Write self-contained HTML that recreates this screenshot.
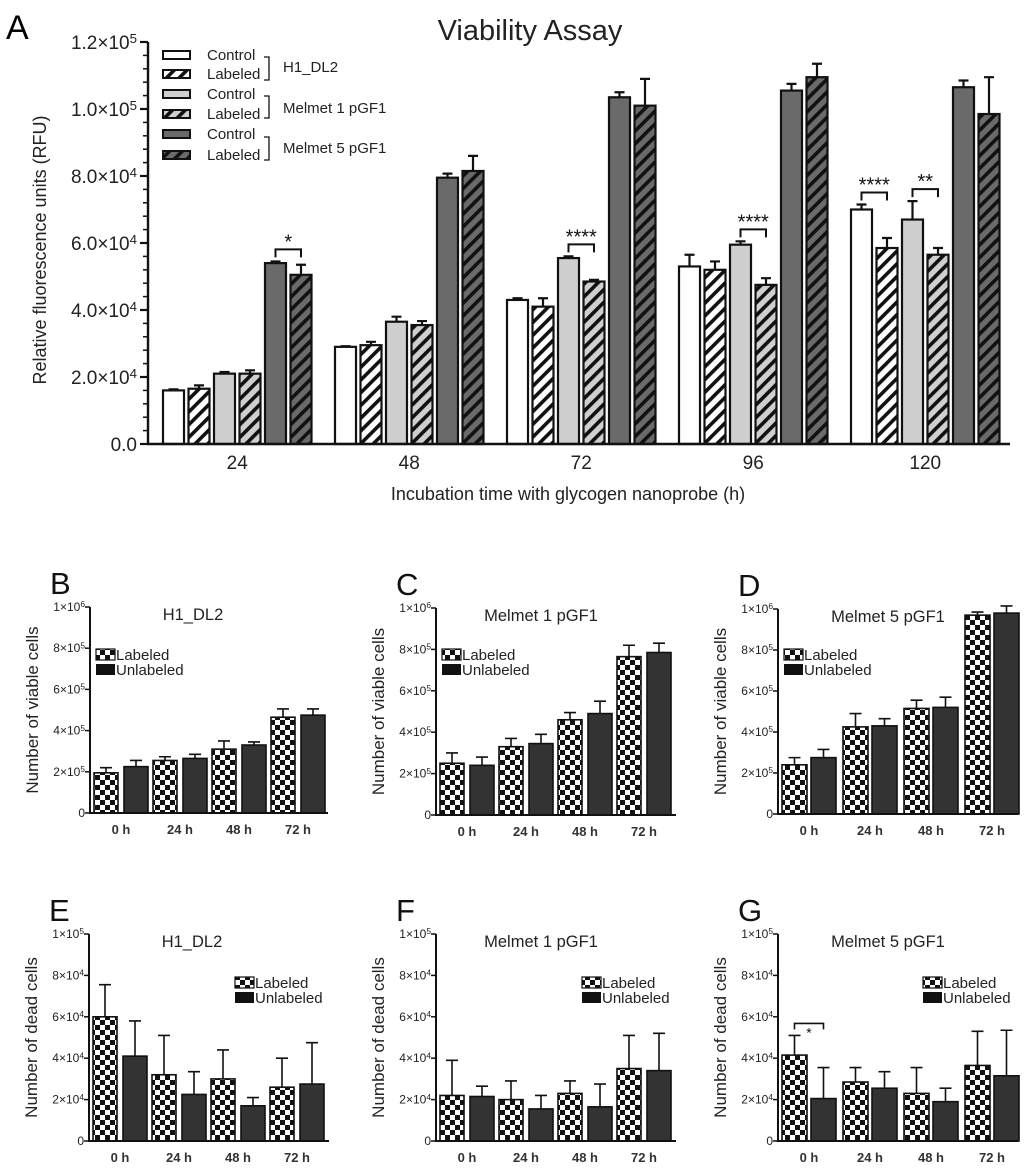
<!DOCTYPE html>
<html><head><meta charset="utf-8"><style>
html,body{margin:0;padding:0;background:#fff;}
svg{display:block;font-family:"Liberation Sans",Arial,sans-serif;}
</style></head><body>
<svg id="fig" width="1024" height="1172" viewBox="0 0 1024 1172" xmlns="http://www.w3.org/2000/svg">
<defs>
<pattern id="checker" patternUnits="userSpaceOnUse" width="10" height="10"><rect width="10" height="10" fill="#fff"/><rect width="5" height="5" fill="#111"/><rect x="5" y="5" width="5" height="5" fill="#111"/></pattern>
<pattern id="hatchW" patternUnits="userSpaceOnUse" width="9" height="9" patternTransform="rotate(45)"><rect width="9" height="9" fill="#fff"/><rect width="3.6" height="9" fill="#111"/></pattern>
<pattern id="hatchL" patternUnits="userSpaceOnUse" width="9" height="9" patternTransform="rotate(45)"><rect width="9" height="9" fill="#cfcfcf"/><rect width="3.6" height="9" fill="#111"/></pattern>
<pattern id="hatchD" patternUnits="userSpaceOnUse" width="9" height="9" patternTransform="rotate(45)"><rect width="9" height="9" fill="#6a6a6a"/><rect width="3.6" height="9" fill="#111"/></pattern>
</defs>
<g id="root"></g>
</svg>
<script>
// ---------- Panel A data ----------
const aCats = ['24','48','72','96','120'];
const aCtrlH1 = [16000,29000,43000,53000,70000];
const aLabH1  = [16500,29500,41000,52000,58500];
const aCtrlM1 = [21000,36500,55500,59500,67000];
const aLabM1  = [21000,35500,48500,47500,56500];
const aCtrlM5 = [54000,79500,103500,105500,106500];
const aLabM5  = [50500,81500,101000,109500,98500];
const aErrCtrlH1 = [300,200,500,3500,1500];
const aErrLabH1  = [1000,1000,2500,2500,3000];
const aErrCtrlM1 = [500,1500,500,1000,5500];
const aErrLabM1  = [1000,1200,500,2000,2000];
const aErrCtrlM5 = [500,1200,1500,2000,2000];
const aErrLabM5  = [3000,4500,8000,4000,11000];
const aTickVals = [0,20000,40000,60000,80000,100000,120000];
const aTickLabels = ['0.0','2.0×10','4.0×10','6.0×10','8.0×10','1.0×10','1.2×10'];
const aTickExp = ['','4','4','4','4','5','5'];
const aSig = [[0,4,5,'*'],[2,2,3,'****'],[3,2,3,'****'],[4,0,1,'****'],[4,2,3,'**']];

// ---------- Small panels data ----------
const smallCats = ['0 h','24 h','48 h','72 h'];
const bLab = [195000,255000,310000,465000], bUnl = [225000,265000,330000,475000];
const bLabErr = [25000,18000,40000,40000], bUnlErr = [30000,20000,15000,30000];
const cLab = [250000,330000,460000,765000], cUnl = [240000,345000,490000,785000];
const cLabErr = [50000,40000,35000,55000], cUnlErr = [40000,45000,60000,45000];
const dLab = [240000,425000,515000,970000], dUnl = [275000,430000,520000,980000];
const dLabErr = [35000,65000,40000,15000], dUnlErr = [40000,35000,50000,35000];
const eLab = [60000,32000,30000,26000], eUnl = [41000,22500,17000,27500];
const eLabErr = [15500,19000,14000,14000], eUnlErr = [17000,11000,4000,20000];
const fLab = [22000,20000,23000,35000], fUnl = [21500,15500,16500,34000];
const fLabErr = [17000,9000,6000,16000], fUnlErr = [5000,6500,11000,18000];
const gLab = [41500,28500,23000,36500], gUnl = [20500,25500,19000,31500];
const gLabErr = [9500,7000,12500,16500], gUnlErr = [15000,8000,6500,22000];
const viableTicks = [0,200000,400000,600000,800000,1000000];
const viableTickBase = ['0','2×10','4×10','6×10','8×10','1×10'];
const viableTickExp = ['','5','5','5','5','6'];
const deadTicks = [0,20000,40000,60000,80000,100000];
const deadTickBase = ['0','2×10','4×10','6×10','8×10','1×10'];
const deadTickExp = ['','4','4','4','4','5'];

const NS='http://www.w3.org/2000/svg';
const root=document.getElementById('root');
function mk(tag,attrs,parent){const e=document.createElementNS(NS,tag);for(const k in attrs)e.setAttribute(k,attrs[k]);(parent||root).appendChild(e);return e;}
function txt(str,attrs,parent){const e=mk('text',attrs,parent);e.textContent=str;return e;}
function supText(base,exp,attrs,parent){const e=mk('text',attrs,parent);e.appendChild(document.createTextNode(base));if(exp){const t=document.createElementNS(NS,'tspan');t.setAttribute('dy','-0.45em');t.setAttribute('font-size','0.7em');t.textContent=exp;e.appendChild(t);}return e;}

// ================= Panel A =================
const A={ax:148,y0:444,max:120000,h:402,x0:163,gStep:172,bStep:25.5,bw:21,xEnd:1010};
function yA(v){return A.y0 - v/A.max*A.h;}
function xA(g,b){return A.x0 + g*A.gStep + b*A.bStep;}
const gA=mk('g',{});


let t=txt('A',{x:6,y:39,'font-size':34},gA);


t=txt('Viability Assay',{x:530,y:40,'font-size':29,'text-anchor':'middle',fill:'#222'},gA);


const seriesA=[[aCtrlH1,aErrCtrlH1,'#fff'],[aLabH1,aErrLabH1,'url(#hatchW)'],[aCtrlM1,aErrCtrlM1,'#cfcfcf'],[aLabM1,aErrLabM1,'url(#hatchL)'],[aCtrlM5,aErrCtrlM5,'#6a6a6a'],[aLabM5,aErrLabM5,'url(#hatchD)']];
const seriesANames=['h1-control','h1-labeled','melmet1-control','melmet1-labeled','melmet5-control','melmet5-labeled'];
aCats.forEach((c,g)=>{
  seriesA.forEach((s,b)=>{
    const v=s[0][g],e=s[1][g],x=xA(g,b),cx=x+A.bw/2;
    const r=mk('rect',{x:x,y:yA(v),width:A.bw,height:A.y0-yA(v),fill:s[2],stroke:'#111','stroke-width':2.2},gA);
    
    
    const eb=mk('path',{d:`M${cx},${yA(v)}V${yA(v+e)}M${cx-5},${yA(v+e)}H${cx+5}`,stroke:'#111','stroke-width':2.2,fill:'none'},gA);
    
    
  });
});
aSig.forEach(s=>{
  const [g,b1,b2,lab]=s;const srs=seriesA;
  const top=Math.max(srs[b1][0][g]+srs[b1][1][g],srs[b2][0][g]+srs[b2][1][g]);
  const yy=yA(top)-12, x1=xA(g,b1)+A.bw/2, x2=xA(g,b2)+A.bw/2;
  const p=mk('path',{d:`M${x1},${yy+8}V${yy}H${x2}V${yy+8}`,stroke:'#111','stroke-width':2,fill:'none'},gA);
  
  
  const st=txt(lab,{x:(x1+x2)/2,y:yy-1,'font-size':20,'text-anchor':'middle',fill:'#111'},gA);
  
  
});
let ax=mk('path',{d:`M${A.ax},${yA(A.max)}V${A.y0}H${A.xEnd}`,stroke:'#111','stroke-width':2.4,fill:'none'},gA);


for(let v=0;v<=A.max;v+=4000){const major=(v%20000===0);mk('line',{x1:A.ax-(major?8:5),x2:A.ax,y1:yA(v),y2:yA(v),stroke:'#111','stroke-width':major?2.2:1.5},gA);}
aTickVals.forEach((v,i)=>{const tl=supText(aTickLabels[i],aTickExp[i],{x:A.ax-11,y:yA(v)+7,'font-size':19,'text-anchor':'end',fill:'#222'},gA);
  
  });
aCats.forEach((c,g)=>{const tl=txt(c,{x:xA(g,0)+(5*A.bStep+A.bw)/2,y:469,'font-size':19,'text-anchor':'middle',fill:'#222'},gA);
  
  });
t=txt('Incubation time with glycogen nanoprobe (h)',{x:568,y:500,'font-size':18,'text-anchor':'middle',fill:'#222'},gA);


t=txt('Relative fluorescence units (RFU)',{x:0,y:0,'font-size':18,'text-anchor':'middle',fill:'#222',transform:'translate(46,250) rotate(-90)'},gA);


const legRows=[['Control','#fff',55],['Labeled','url(#hatchW)',74],['Control','#cfcfcf',94],['Labeled','url(#hatchL)',114],['Control','#6a6a6a',134],['Labeled','url(#hatchD)',155]];
legRows.forEach((r,i)=>{
  const sw=mk('rect',{x:163,y:r[2]-4,width:27,height:8,fill:r[1],stroke:'#111','stroke-width':2},gA);
  
  
  const lt=txt(r[0],{x:207,y:r[2]+5,'font-size':15,fill:'#222'},gA);
  
  
});
[['H1_DL2',57,80,72],['Melmet 1 pGF1',96,118,113],['Melmet 5 pGF1',137,160,153]].forEach(b=>{
  const br=mk('path',{d:`M264,${b[1]}H269V${b[2]}H264`,stroke:'#111','stroke-width':1.3,fill:'none'},gA);
  
  
  const bt=txt(b[0],{x:283,y:b[3],'font-size':15,fill:'#222'},gA);
  
  
});

// ================= Small panels =================
function small(cfg){
  const g=mk('g',{});
  
  
  const y=v=>cfg.y0-v/cfg.max*(cfg.y0-cfg.top);
  const lt=txt(cfg.letter,{x:cfg.ax-40,y:cfg.top-13,'font-size':31,fill:'#111'},g);
  
  
  const tt=txt(cfg.title,{x:cfg.ax+cfg.titleDx,y:cfg.top+13,'font-size':16.5,'text-anchor':'middle',fill:'#222'},g);
  
  
  smallCats.forEach((c,i)=>{
    [[cfg.lab,cfg.labErr,'url(#checker)','labeled'],[cfg.unl,cfg.unlErr,'#333','unlabeled']].forEach((s,j)=>{
      const v=s[0][i],e=s[1][i];const x=cfg.ax+4+i*cfg.gw+j*(cfg.bw+cfg.gap);const cx=x+cfg.bw/2;
      const r=mk('rect',{x:x,y:y(v),width:cfg.bw,height:cfg.y0-y(v),fill:s[2],stroke:'#111','stroke-width':1.6},g);
      
      
      const eb=mk('path',{d:`M${cx},${y(v)}V${y(v+e)}M${cx-6},${y(v+e)}H${cx+6}`,stroke:'#111','stroke-width':1.6,fill:'none'},g);
      
      
    });
    const xl=txt(c,{x:cfg.ax+4+i*cfg.gw+cfg.bw+cfg.gap/2,y:cfg.y0+21,'font-size':13,'font-weight':'bold','text-anchor':'middle',fill:'#333'},g);
    
    
  });
  const axp=mk('path',{d:`M${cfg.ax},${cfg.top}V${cfg.y0}H${cfg.ax+cfg.xlen}`,stroke:'#111','stroke-width':2,fill:'none'},g);
  
  
  cfg.ticks.forEach((v,i)=>{
    mk('line',{x1:cfg.ax-5,x2:cfg.ax,y1:y(v),y2:y(v),stroke:'#111','stroke-width':1.5},g);
    const tl=supText(cfg.tickBase[i],cfg.tickExp[i],{x:cfg.ax-5,y:y(v)+4,'font-size':12,'text-anchor':'end',fill:'#222'},g);
    
    
  });
  const yt=txt(cfg.ylabel,{x:0,y:0,'font-size':17,'text-anchor':'middle',fill:'#222',transform:`translate(${cfg.ax-52},${(cfg.top+cfg.y0)/2}) rotate(-90)`},g);
  
  
  const lx=cfg.ax+cfg.legDx, ly=cfg.legY;
  const s1=mk('rect',{x:lx,y:ly,width:19,height:11,fill:'url(#checker)',stroke:'#111','stroke-width':1.2},g);
  
  
  const s2=mk('rect',{x:lx,y:ly+15,width:19,height:11,fill:'#111'},g);
  
  
  const l1=txt('Labeled',{x:lx+20,y:ly+11,'font-size':15,fill:'#222'},g);
  
  
  const l2=txt('Unlabeled',{x:lx+20,y:ly+26,'font-size':15,fill:'#222'},g);
  
  
  return {g,y};
}
const vLbl='Number of viable cells', dLbl='Number of dead cells';
small({letter:'B',ax:90,top:607,y0:813,max:1e6,xlen:238,gw:59,bw:24,gap:6,lab:bLab,unl:bUnl,labErr:bLabErr,unlErr:bUnlErr,ticks:viableTicks,tickBase:viableTickBase,tickExp:viableTickExp,ylabel:vLbl,title:'H1_DL2',titleDx:103,legDx:6,legY:649});
small({letter:'C',ax:436,top:608,y0:815,max:1e6,xlen:240,gw:59,bw:24,gap:6,lab:cLab,unl:cUnl,labErr:cLabErr,unlErr:cUnlErr,ticks:viableTicks,tickBase:viableTickBase,tickExp:viableTickExp,ylabel:vLbl,title:'Melmet 1 pGF1',titleDx:105,legDx:6,legY:649});
small({letter:'D',ax:778,top:609,y0:814,max:1e6,xlen:240,gw:61,bw:25,gap:4,lab:dLab,unl:dUnl,labErr:dLabErr,unlErr:dUnlErr,ticks:viableTicks,tickBase:viableTickBase,tickExp:viableTickExp,ylabel:vLbl,title:'Melmet 5 pGF1',titleDx:110,legDx:6,legY:649});
small({letter:'E',ax:89,top:934,y0:1141,max:1e5,xlen:240,gw:59,bw:24,gap:6,lab:eLab,unl:eUnl,labErr:eLabErr,unlErr:eUnlErr,ticks:deadTicks,tickBase:deadTickBase,tickExp:deadTickExp,ylabel:dLbl,title:'H1_DL2',titleDx:103,legDx:146,legY:977});
small({letter:'F',ax:436,top:934,y0:1141,max:1e5,xlen:240,gw:59,bw:24,gap:6,lab:fLab,unl:fUnl,labErr:fLabErr,unlErr:fUnlErr,ticks:deadTicks,tickBase:deadTickBase,tickExp:deadTickExp,ylabel:dLbl,title:'Melmet 1 pGF1',titleDx:105,legDx:146,legY:977});
const G=small({letter:'G',ax:778,top:934,y0:1141,max:1e5,xlen:240,gw:61,bw:25,gap:4,lab:gLab,unl:gUnl,labErr:gLabErr,unlErr:gUnlErr,ticks:deadTicks,tickBase:deadTickBase,tickExp:deadTickExp,ylabel:dLbl,title:'Melmet 5 pGF1',titleDx:110,legDx:145,legY:977});
(function(){const top=Math.max(gLab[0]+gLabErr[0],gUnl[0]+gUnlErr[0]);const yy=G.y(top)-12;const x1=778+4+12.5,x2=778+4+25+4+12.5;
 const p=mk('path',{d:`M${x1},${yy+6}V${yy}H${x2}V${yy+6}`,stroke:'#111','stroke-width':1.6,fill:'none'},G.g);
 
 
 const s=txt('*',{x:(x1+x2)/2,y:yy+14,'font-size':14,'text-anchor':'middle',fill:'#111'},G.g);
 
 })();
</script>
</body></html>
